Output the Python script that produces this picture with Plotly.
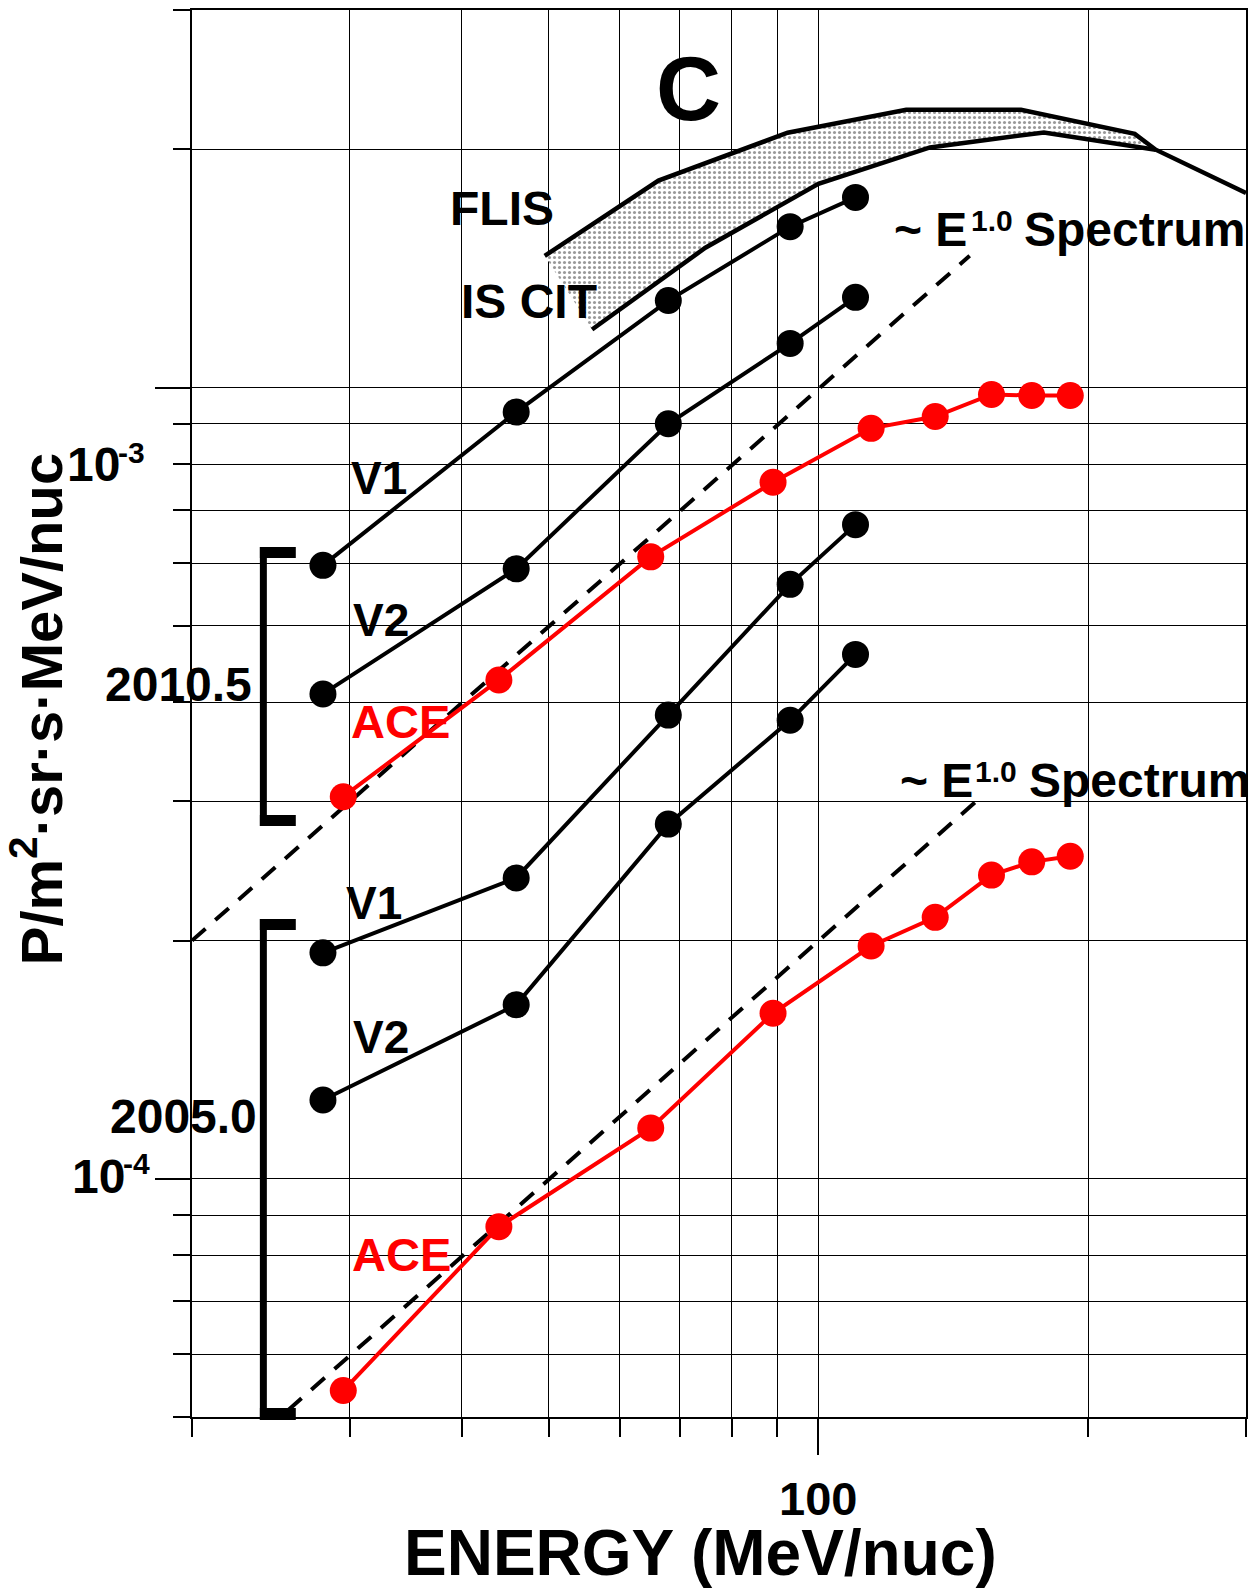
import math
import plotly.graph_objects as go

# ---------------- data ----------------
voy_energy = [28.0, 46.0, 68.0, 93.0, 110.0]
ace_energy = [29.5, 44.0, 65.0, 89.0, 114.5, 135.0, 156.0, 173.0, 191.0]

# epoch 2010.5
v1_2010 = [5.96e-4, 9.31e-4, 1.288e-3, 1.597e-3, 1.739e-3]
v2_2010 = [4.10e-4, 5.90e-4, 9.00e-4, 1.137e-3, 1.300e-3]
ace_2010 = [3.04e-4, 4.27e-4, 6.11e-4, 7.59e-4, 8.88e-4, 9.19e-4, 9.80e-4, 9.77e-4, 9.77e-4]

# epoch 2005.0
v1_2005 = [1.93e-4, 2.40e-4, 3.855e-4, 5.64e-4, 6.71e-4]
v2_2005 = [1.258e-4, 1.659e-4, 2.807e-4, 3.797e-4, 4.60e-4]
ace_2005 = [5.40e-5, 8.70e-5, 1.159e-4, 1.619e-4, 1.969e-4, 2.140e-4, 2.420e-4, 2.515e-4, 2.557e-4]

# ~E^1.0 reference spectra
e1_upper_energy = [20.0, 147.5]
e1_upper_flux = [2.0e-4, 1.467e-3]
e1_lower_energy = [25.6, 150.0]
e1_lower_flux = [5.1e-5, 3.0e-4]

# FLIS (upper) and IS CIT (lower) interstellar spectra
flis_energy = [49.5, 66.3, 92.4, 125.3, 168.3, 225.4, 237.9, 300.0]
flis_flux = [1.467e-3, 1.826e-3, 2.099e-3, 2.244e-3, 2.244e-3, 2.092e-3, 1.998e-3, 1.761e-3]
cit_energy = [55.9, 74.8, 100.0, 133.2, 178.5, 237.9]
cit_flux = [1.184e-3, 1.502e-3, 1.809e-3, 2.011e-3, 2.101e-3, 1.998e-3]

# axis ticks / grid
x_range = [20, 300]
y_range = [5e-5, 3e-3]
x_major = [100]
x_minor = [20, 30, 40, 50, 60, 70, 80, 90, 200, 300]
y_major = [1e-4, 1e-3]
y_minor = [5e-5, 6e-5, 7e-5, 8e-5, 9e-5,
           2e-4, 3e-4, 4e-4, 5e-4, 6e-4, 7e-4, 8e-4, 9e-4,
           2e-3, 3e-3]

FONT = "Liberation Sans, Arial, sans-serif"
RED = "#FF0000"

# ---------------- figure ----------------
W, H = 1252, 1594
ML, MR, MT, MB = 192, 4, 10, 177
PW, PH = W - ML - MR, H - MT - MB


def px(xpix):
    return (xpix - ML) / PW


def py(ypix):
    return (H - MB - ypix) / PH


fig = go.Figure()

# shaded band between FLIS and IS CIT
n_meet = flis_energy.index(cit_energy[-1]) + 1
fig.add_trace(go.Scatter(
    x=flis_energy[:n_meet] + cit_energy[::-1],
    y=flis_flux[:n_meet] + cit_flux[::-1],
    mode="lines", line=dict(width=0), fill="toself",
    fillcolor="rgba(255,255,255,0)",
    fillpattern=dict(shape=".", fgcolor="#333333", bgcolor="white", size=5, solidity=0.3),
    hoverinfo="skip"))
fig.add_trace(go.Scatter(x=flis_energy, y=flis_flux, mode="lines",
                         line=dict(color="black", width=4.5)))
fig.add_trace(go.Scatter(x=cit_energy, y=cit_flux, mode="lines",
                         line=dict(color="black", width=4.5)))

# E^1.0 dashed lines
for xe, ye in [(e1_upper_energy, e1_upper_flux), (e1_lower_energy, e1_lower_flux)]:
    fig.add_trace(go.Scatter(x=xe, y=ye, mode="lines",
                             line=dict(color="black", width=4, dash="18px,13px")))

# data series
for ys in [v1_2010, v2_2010, v1_2005, v2_2005]:
    fig.add_trace(go.Scatter(x=voy_energy, y=ys, mode="lines+markers",
                             line=dict(color="black", width=4),
                             marker=dict(color="black", size=27)))
for ys in [ace_2010, ace_2005]:
    fig.add_trace(go.Scatter(x=ace_energy, y=ys, mode="lines+markers",
                             line=dict(color=RED, width=4),
                             marker=dict(color=RED, size=27)))

axis_common = dict(type="log", showticklabels=False, ticks="outside",
                   tickcolor="black", tickwidth=1.5,
                   showgrid=True, gridcolor="black", gridwidth=1,
                   showline=True, linecolor="black", linewidth=2, mirror=True,
                   zeroline=False)
fig.update_xaxes(range=[math.log10(x_range[0]), math.log10(x_range[1])],
                 tickvals=x_major, ticklen=36,
                 minor=dict(tickvals=x_minor, ticks="outside", ticklen=18,
                            tickwidth=1.5, tickcolor="black",
                            showgrid=True, gridcolor="black", gridwidth=1),
                 **axis_common)
fig.update_yaxes(range=[math.log10(y_range[0]), math.log10(y_range[1])],
                 tickvals=y_major, ticklen=35,
                 minor=dict(tickvals=y_minor, ticks="outside", ticklen=17,
                            tickwidth=1.5, tickcolor="black",
                            showgrid=True, gridcolor="black", gridwidth=1),
                 **axis_common)

ann = []


def data_label(e, v, text, size, color="black", xanchor="center"):
    ann.append(dict(x=math.log10(e), y=math.log10(v), xref="x", yref="y",
                    text=text, showarrow=False, xanchor=xanchor, yanchor="middle",
                    font=dict(family=FONT, size=size, color=color)))


def paper_label(xp, yp, text, size, xanchor="center", angle=0):
    ann.append(dict(x=xp, y=yp, xref="paper", yref="paper", text=text,
                    showarrow=False, xanchor=xanchor, yanchor="middle",
                    textangle=angle,
                    font=dict(family=FONT, size=size, color="black")))


data_label(71.7, 2.385e-3, "<b>C</b>", 90)
data_label(44.4, 1.685e-3, "<b>FLIS</b>", 48)
data_label(47.5, 1.284e-3, "<b>IS CIT</b>", 48)

# "~ E^1.0 Spectrum" labels (exponent drawn as its own smaller text)
data_label(120.9, 1.583e-3, "<b>~ E</b>", 48, xanchor="left")
data_label(147.3, 1.627e-3, "<b>1.0</b>", 30, xanchor="left")
data_label(168.7, 1.583e-3, "<b>Spectrum</b>", 48, xanchor="left")
data_label(122.8, 3.183e-4, "<b>~ E</b>", 48, xanchor="left")
data_label(148.8, 3.268e-4, "<b>1.0</b>", 30, xanchor="left")
data_label(171.0, 3.183e-4, "<b>Spectrum</b>", 48, xanchor="left")

data_label(32.3, 7.69e-4, "<b>V1</b>", 46)
data_label(32.5, 5.08e-4, "<b>V2</b>", 46)
data_label(34.2, 3.78e-4, "<b>ACE</b>", 47, color=RED)
data_label(31.9, 2.23e-4, "<b>V1</b>", 46)
data_label(32.5, 1.511e-4, "<b>V2</b>", 46)
data_label(34.3, 8.03e-5, "<b>ACE</b>", 47, color=RED)

paper_label(px(178.5), py(684.5), "<b>2010.5</b>", 48)
paper_label(px(183.5), py(1116), "<b>2005.0</b>", 48)
# y tick labels (base and exponent)
paper_label(px(122), py(465), "<b>10</b>", 48, xanchor="right")
paper_label(px(116), py(452), "<b>-3</b>", 30, xanchor="left")
paper_label(px(127), py(1176), "<b>10</b>", 48, xanchor="right")
paper_label(px(121), py(1163), "<b>-4</b>", 30, xanchor="left")
ann.append(dict(x=2, y=py(1498), xref="x", yref="paper", text="<b>100</b>",
                showarrow=False, xanchor="center", yanchor="middle",
                font=dict(family=FONT, size=47, color="black")))
paper_label(px(701), py(1553), "<b>ENERGY (MeV/nuc)</b>", 64)
paper_label(px(36), py(709), "<b>P/m<sup>2</sup>·sr·s·MeV/nuc</b>", 58, angle=-90)

# epoch brackets
shapes = []
for (x0, x1, y0, y1) in [(260, 267, 547, 826), (260, 296, 547, 558), (260, 296, 815, 826),
                         (260, 267, 919, 1420), (260, 296, 919, 930), (260, 296, 1408, 1420)]:
    shapes.append(dict(type="rect", xref="paper", yref="paper",
                       x0=px(x0), x1=px(x1), y0=py(y1), y1=py(y0),
                       fillcolor="black", line=dict(width=0)))

fig.update_layout(width=W, height=H, margin=dict(l=ML, r=MR, t=MT, b=MB),
                  plot_bgcolor="white", paper_bgcolor="white",
                  showlegend=False, annotations=ann, shapes=shapes)

fig.write_html("out.html")
